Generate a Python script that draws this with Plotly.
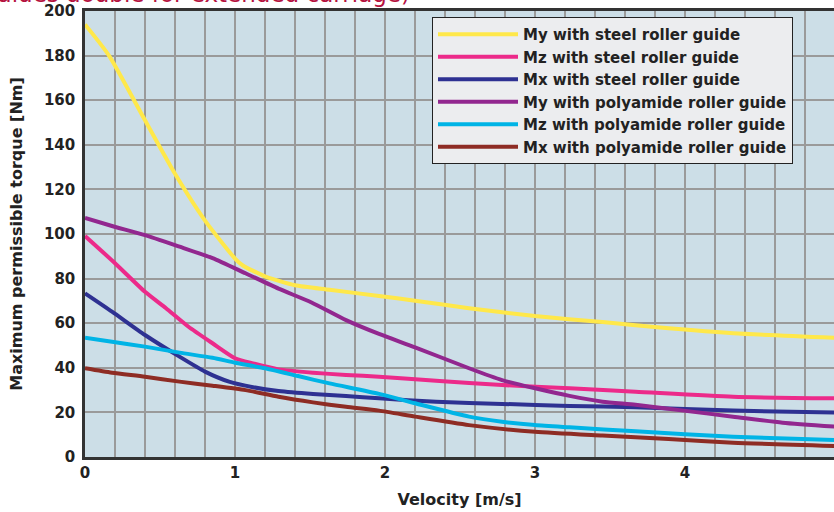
import plotly.graph_objects as go

# ---- data ----
x_my_steel = [0, 0.16, 0.4, 0.6, 0.8, 1.0, 1.05, 1.2, 1.4, 1.63, 1.96, 2.2, 2.56, 3.0, 3.45, 3.89, 4.32, 5.0]
y_my_steel = [194, 180, 151, 127, 106, 89, 86, 81, 77, 75, 72.2, 70.1, 66.7, 63.2, 60.5, 57.7, 55.5, 53.5]

x_mz_steel = [0, 0.2, 0.4, 0.54, 0.69, 0.85, 1.0, 1.12, 1.29, 1.52, 1.74, 1.96, 2.34, 2.78, 3.23, 3.67, 4.32, 5.0]
y_mz_steel = [99.1, 86.9, 74.1, 66.7, 58.4, 51, 44.3, 42, 39.3, 37.8, 36.8, 36, 34.2, 32.3, 30.8, 29.3, 27, 26.3]

x_mx_steel = [0, 0.18, 0.4, 0.63, 0.8, 0.96, 1.12, 1.29, 1.52, 1.74, 1.96, 2.34, 2.78, 3.23, 3.67, 4.32, 5.0]
y_mx_steel = [73.4, 65.2, 54.7, 45, 38.3, 33.8, 31.3, 29.6, 28.3, 27.4, 26.3, 24.8, 23.8, 22.9, 22.3, 20.8, 19.9]

x_my_poly = [0, 0.18, 0.4, 0.63, 0.85, 1.07, 1.29, 1.51, 1.74, 1.96, 2.2, 2.56, 2.78, 3.0, 3.23, 3.45, 3.67, 3.99, 4.32, 4.65, 5.0]
y_my_poly = [107.2, 103.6, 99.5, 94.3, 89.2, 82.4, 75.5, 69.3, 61.4, 55.2, 49.2, 39.8, 34.5, 30.8, 27.4, 24.8, 23.4, 20.8, 18.1, 15.4, 13.6]

x_mz_poly = [0, 0.18, 0.4, 0.63, 0.85, 1.0, 1.2, 1.42, 1.63, 1.96, 2.2, 2.56, 2.78, 3.0, 3.23, 3.67, 4.32, 5.0]
y_mz_poly = [53.5, 51.7, 49.5, 46.8, 44.5, 42.3, 39.8, 36.3, 33, 28.3, 24.1, 18.1, 15.8, 14.3, 13.3, 11.5, 9.1, 7.6]

x_mx_poly = [0, 0.18, 0.4, 0.63, 0.85, 1.07, 1.29, 1.52, 1.74, 1.96, 2.2, 2.56, 3.0, 3.45, 3.89, 4.32, 5.0]
y_mx_poly = [39.8, 37.8, 36, 33.8, 32, 30, 27, 24.5, 22.5, 20.8, 18.1, 14.3, 11.3, 9.6, 8.1, 6.4, 4.9]

series_names = [
    "My with steel roller guide",
    "Mz with steel roller guide",
    "Mx with steel roller guide",
    "My with polyamide roller guide",
    "Mz with polyamide roller guide",
    "Mx with polyamide roller guide",
]
series_x = [x_my_steel, x_mz_steel, x_mx_steel, x_my_poly, x_mz_poly, x_mx_poly]
series_y = [y_my_steel, y_mz_steel, y_mx_steel, y_my_poly, y_mz_poly, y_mx_poly]
series_colors = ["#FFE84A", "#EC2A8A", "#2E3192", "#92278F", "#00B4E6", "#8E2C24"]

x_tick_vals = [0, 1, 2, 3, 4]
x_tick_text = ["0", "1", "2", "3", "4"]
y_tick_vals = [0, 20, 40, 60, 80, 100, 120, 140, 160, 180, 200]

FONT = "DejaVu Sans, Verdana, sans-serif"
W, H = 834, 512
ML, MR, MT, MB = 85, 0, 11, 55
PW, PH = W - ML - MR, H - MT - MB

fig = go.Figure()
for i, (nm, xs, ys, c) in enumerate(zip(series_names, series_x, series_y, series_colors)):
    fig.add_trace(go.Scatter(
        x=xs, y=ys, mode="lines", name=nm,
        line=dict(color=c, width=4, shape="spline", smoothing=0.6),
        legendgroup=f"g{i}",
    ))

fig.update_layout(
    width=W, height=H,
    margin=dict(l=ML, r=MR, t=MT, b=MB, autoexpand=False),
    paper_bgcolor="white",
    plot_bgcolor="#CCDEE7",
    font=dict(family=FONT, size=15, color="#222222"),
    showlegend=True,
    legend=dict(
        x=(432 - ML) / PW, y=(H - MB - 17) / PH,
        xanchor="left", yanchor="top",
        bgcolor="#ECEDEF", bordercolor="#222222", borderwidth=1,
        font=dict(family=FONT, size=15, color="#222222", weight="bold"),
        tracegroupgap=0, itemwidth=80,
    ),
    xaxis=dict(
        range=[0, 4.993],
        tickvals=x_tick_vals, ticktext=x_tick_text,
        tickfont=dict(family=FONT, size=15, color="#222222", weight="bold"),
        showgrid=True, gridcolor="#9A9A9A", gridwidth=1.5,
        minor=dict(dtick=0.2, showgrid=True, gridcolor="#9A9A9A", gridwidth=1.5),
        showline=True, linecolor="#333333", linewidth=2.5, mirror=True,
        zeroline=False, ticks="", automargin=False,
        title=dict(text="Velocity [m/s]", font=dict(family=FONT, size=16, color="#222222", weight="bold"), standoff=14),
    ),
    yaxis=dict(
        range=[0, 200],
        tickvals=y_tick_vals,
        tickfont=dict(family=FONT, size=15, color="#222222", weight="bold"),
        showgrid=True, gridcolor="#9A9A9A", gridwidth=1.5,
        showline=True, linecolor="#333333", linewidth=2.5, mirror=False,
        zeroline=False, ticks="", ticklabelstandoff=4, automargin=False,
        title=dict(text="Maximum permissible torque [Nm]", font=dict(family=FONT, size=16, color="#222222", weight="bold"), standoff=18),
    ),
)

fig.add_annotation(
    xref="paper", yref="paper",
    x=(412 - ML) / PW, y=(H - MB + 6) / PH,
    xanchor="right", yanchor="middle",
    text="(values double for extended carriage)", showarrow=False,
    font=dict(family=FONT, size=23, color="#B5123F"),
)

# remove the default 8px page margin so the figure sits at the window's corner
fig.write_html(
    "out.html",
    config={"displayModeBar": False},
    post_script="document.body.style.margin='0';",
)
